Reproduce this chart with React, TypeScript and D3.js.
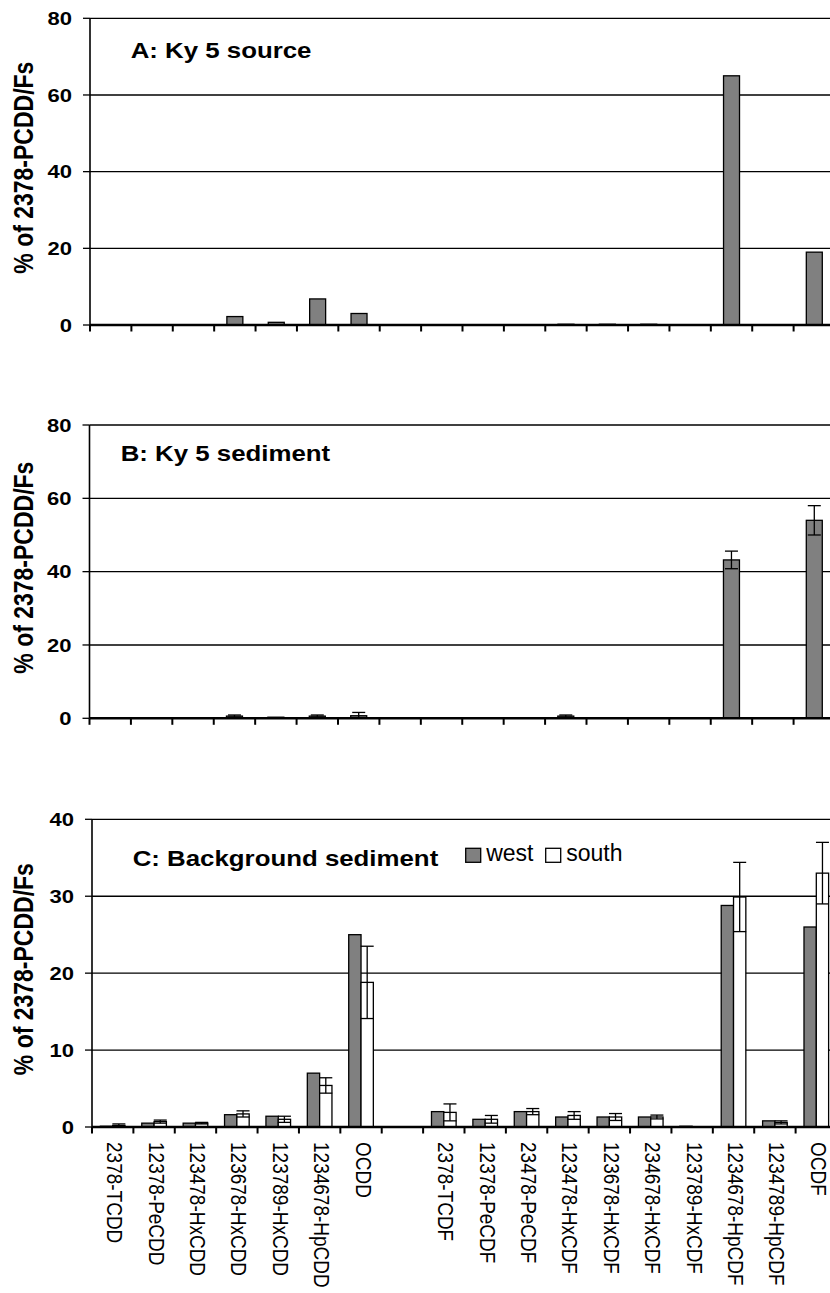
import React from 'react';
import * as d3 from 'd3';

const categories = [
  '2378-TCDD', '12378-PeCDD', '123478-HxCDD', '123678-HxCDD', '123789-HxCDD',
  '1234678-HpCDD', 'OCDD', '',
  '2378-TCDF', '12378-PeCDF', '23478-PeCDF', '123478-HxCDF', '123678-HxCDF',
  '234678-HxCDF', '123789-HxCDF', '1234678-HpCDF', '1234789-HpCDF', 'OCDF',
];

const sourceValues = [0, 0, 0, 2.2, 0.7, 6.8, 3.0, 0, 0, 0, 0, 0.2, 0.2, 0.2, 0, 65, 0, 19];

const sedimentValues = [0, 0, 0, 0.6, 0.3, 0.6, 0.7, 0, 0, 0, 0, 0.6, 0, 0, 0, 43.2, 0, 54];
const sedimentErrors = [0, 0, 0, 0.3, 0, 0.3, 0.9, 0, 0, 0, 0, 0.3, 0, 0, 0, 2.4, 0, 4];

const westValues = [0.1, 0.5, 0.5, 1.6, 1.4, 7.0, 25.0, 0, 2.0, 1.0, 2.0, 1.3, 1.3, 1.3, 0.1, 28.8, 0.8, 26.0];
const southValues = [0.2, 0.7, 0.5, 1.7, 1.0, 5.4, 18.8, 0, 1.9, 1.0, 2.0, 1.5, 1.3, 1.3, 0, 29.9, 0.6, 33.0];
const southErrors = [0.2, 0.2, 0.1, 0.4, 0.4, 1.0, 4.7, 0, 1.1, 0.5, 0.4, 0.5, 0.45, 0.25, 0, 4.5, 0.2, 4.0];

const seriesNames = ['west', 'south'];
const panelTitles = ['A: Ky 5 source', 'B: Ky 5 sediment', 'C: Background sediment'];
const yTicksAB = [0, 20, 40, 60, 80];
const yTicksC = [0, 10, 20, 30, 40];
const yAxisTitle = '% of 2378-PCDD/Fs';

const FONT = '"Liberation Sans", Arial, Helvetica, sans-serif';
const SX = 1.19; // horizontal stretch of the original text
const GRAY = '#808080';

type Series = { name: string; values: number[]; errors?: number[]; fill: string };
type Layout = { left: number; right: number; top: number; bottom: number; titleDx: number; titleDy: number };

const layouts: Layout[] = [
  { left: 90, right: 835, top: 18.3, bottom: 325, titleDx: 40.7, titleDy: 39.4 },
  { left: 89.5, right: 835, top: 425, bottom: 718.3, titleDx: 31.2, titleDy: 35.7 },
  { left: 92, right: 837, top: 819.3, bottom: 1127, titleDx: 40.7, titleDy: 46.4 },
];

function Panel({ layout, title, yTicks, series, showLabels, legend }: {
  layout: Layout; title: string; yTicks: number[]; series: Series[]; showLabels: boolean; legend: boolean;
}) {
  const { left, right, top, bottom } = layout;
  const x = d3.scaleBand<string>().domain(categories).range([left, right]);
  const y = d3.scaleLinear().domain([0, yTicks[yTicks.length - 1]]).range([bottom, top]);
  const bw = x.bandwidth();
  const groupW = series.length === 1 ? bw * 0.386 : bw * 0.595;
  const xs = d3.scaleBand<string>().domain(series.map((s) => s.name)).range([-groupW / 2, groupW / 2]);
  const tickXs = categories.map((c) => x(c) as number).concat([right]);
  const cy = (top + bottom) / 2 - 4;

  return (
    <g>
      {/* gridlines */}
      {yTicks.filter((t) => t > 0).map((t) => (
        <line key={'g' + t} x1={left} x2={right} y1={y(t)} y2={y(t)} stroke="#000" strokeWidth={1.3} />
      ))}
      {/* bars */}
      {series.map((s) =>
        s.values.map((v, i) => {
          if (!v) return null;
          const cx = (x(categories[i]) as number) + bw / 2 + (xs(s.name) as number);
          return (
            <rect key={s.name + i} x={cx} y={y(v)} width={xs.bandwidth()} height={y(0) - y(v)}
              fill={s.fill} stroke="#000" strokeWidth={1.3} />
          );
        })
      )}
      {/* error bars */}
      {series.map((s) =>
        s.errors ? s.values.map((v, i) => {
          const e = s.errors![i];
          if (!e || !v) return null;
          const cx = (x(categories[i]) as number) + bw / 2 + (xs(s.name) as number) + xs.bandwidth() / 2;
          const y1 = y(v + e);
          const y2 = y(Math.max(0, v - e));
          const cap = 6.5;
          return (
            <g key={'e' + s.name + i} stroke="#000" strokeWidth={1.3}>
              <line x1={cx} x2={cx} y1={y1} y2={y2} />
              <line x1={cx - cap} x2={cx + cap} y1={y1} y2={y1} />
              <line x1={cx - cap} x2={cx + cap} y1={y2} y2={y2} />
            </g>
          );
        }) : null
      )}
      {/* y axis */}
      <line x1={left} x2={left} y1={top} y2={bottom} stroke="#000" strokeWidth={1.6} />
      {yTicks.map((t) => (
        <g key={'yt' + t}>
          <line x1={left - 7} x2={left} y1={y(t)} y2={y(t)} stroke="#000" strokeWidth={1.3} />
          <text transform={`translate(${left - 18},${y(t) + 6.6}) scale(${SX},1)`} textAnchor="end"
            fontFamily={FONT} fontWeight="bold" fontSize={18.5} fill="#000">{t}</text>
        </g>
      ))}
      {/* x axis */}
      <line x1={left} x2={right} y1={bottom} y2={bottom} stroke="#000" strokeWidth={2.6} />
      {tickXs.map((tx, i) => (
        <line key={'xt' + i} x1={tx} x2={tx} y1={bottom} y2={bottom + 6.5} stroke="#000" strokeWidth={2} />
      ))}
      {/* y axis title */}
      <text transform={`translate(33,${cy}) scale(${SX},1) rotate(-90)`} textAnchor="middle"
        fontFamily={FONT} fontWeight="bold" fontSize={23} fill="#000">{yAxisTitle}</text>
      {/* panel title */}
      <text transform={`translate(${left + layout.titleDx},${top + layout.titleDy}) scale(${SX},1)`}
        fontFamily={FONT} fontWeight="bold" fontSize={21.7} fill="#000">{title}</text>
      {legend && (
        <g fontFamily={FONT} fontSize={23} fill="#000">
          {series.map((s, i) => {
            const lx = 465.7 + i * 80;
            return (
              <g key={'lg' + s.name}>
                <rect x={lx} y={848.3} width={15} height={14} fill={s.fill} stroke="#000" strokeWidth={1.3} />
                <text x={lx + 20.5} y={861}>{s.name}</text>
              </g>
            );
          })}
        </g>
      )}
      {showLabels && categories.map((c) => (
        c ? (
          <text key={'lb' + c} transform={`translate(${(x(c) as number) + bw / 2 - 5.5},1142) scale(${SX},1) rotate(90)`}
            fontFamily={FONT} fontSize={19} fill="#000">{c}</text>
        ) : null
      ))}
    </g>
  );
}

export default function App() {
  const seriesA: Series[] = [{ name: 'source', values: sourceValues, fill: GRAY }];
  const seriesB: Series[] = [{ name: 'sediment', values: sedimentValues, errors: sedimentErrors, fill: GRAY }];
  const seriesC: Series[] = [
    { name: seriesNames[0], values: westValues, fill: GRAY },
    { name: seriesNames[1], values: southValues, errors: southErrors, fill: '#fff' },
  ];
  return (
    <svg width={830} height={1293} style={{ position: 'absolute', left: 0, top: 0, background: '#fff' }}>
      <rect x={0} y={0} width={830} height={1293} fill="#fff" />
      <Panel layout={layouts[0]} title={panelTitles[0]} yTicks={yTicksAB} series={seriesA} showLabels={false} legend={false} />
      <Panel layout={layouts[1]} title={panelTitles[1]} yTicks={yTicksAB} series={seriesB} showLabels={false} legend={false} />
      <Panel layout={layouts[2]} title={panelTitles[2]} yTicks={yTicksC} series={seriesC} showLabels={true} legend={true} />
    </svg>
  );
}
